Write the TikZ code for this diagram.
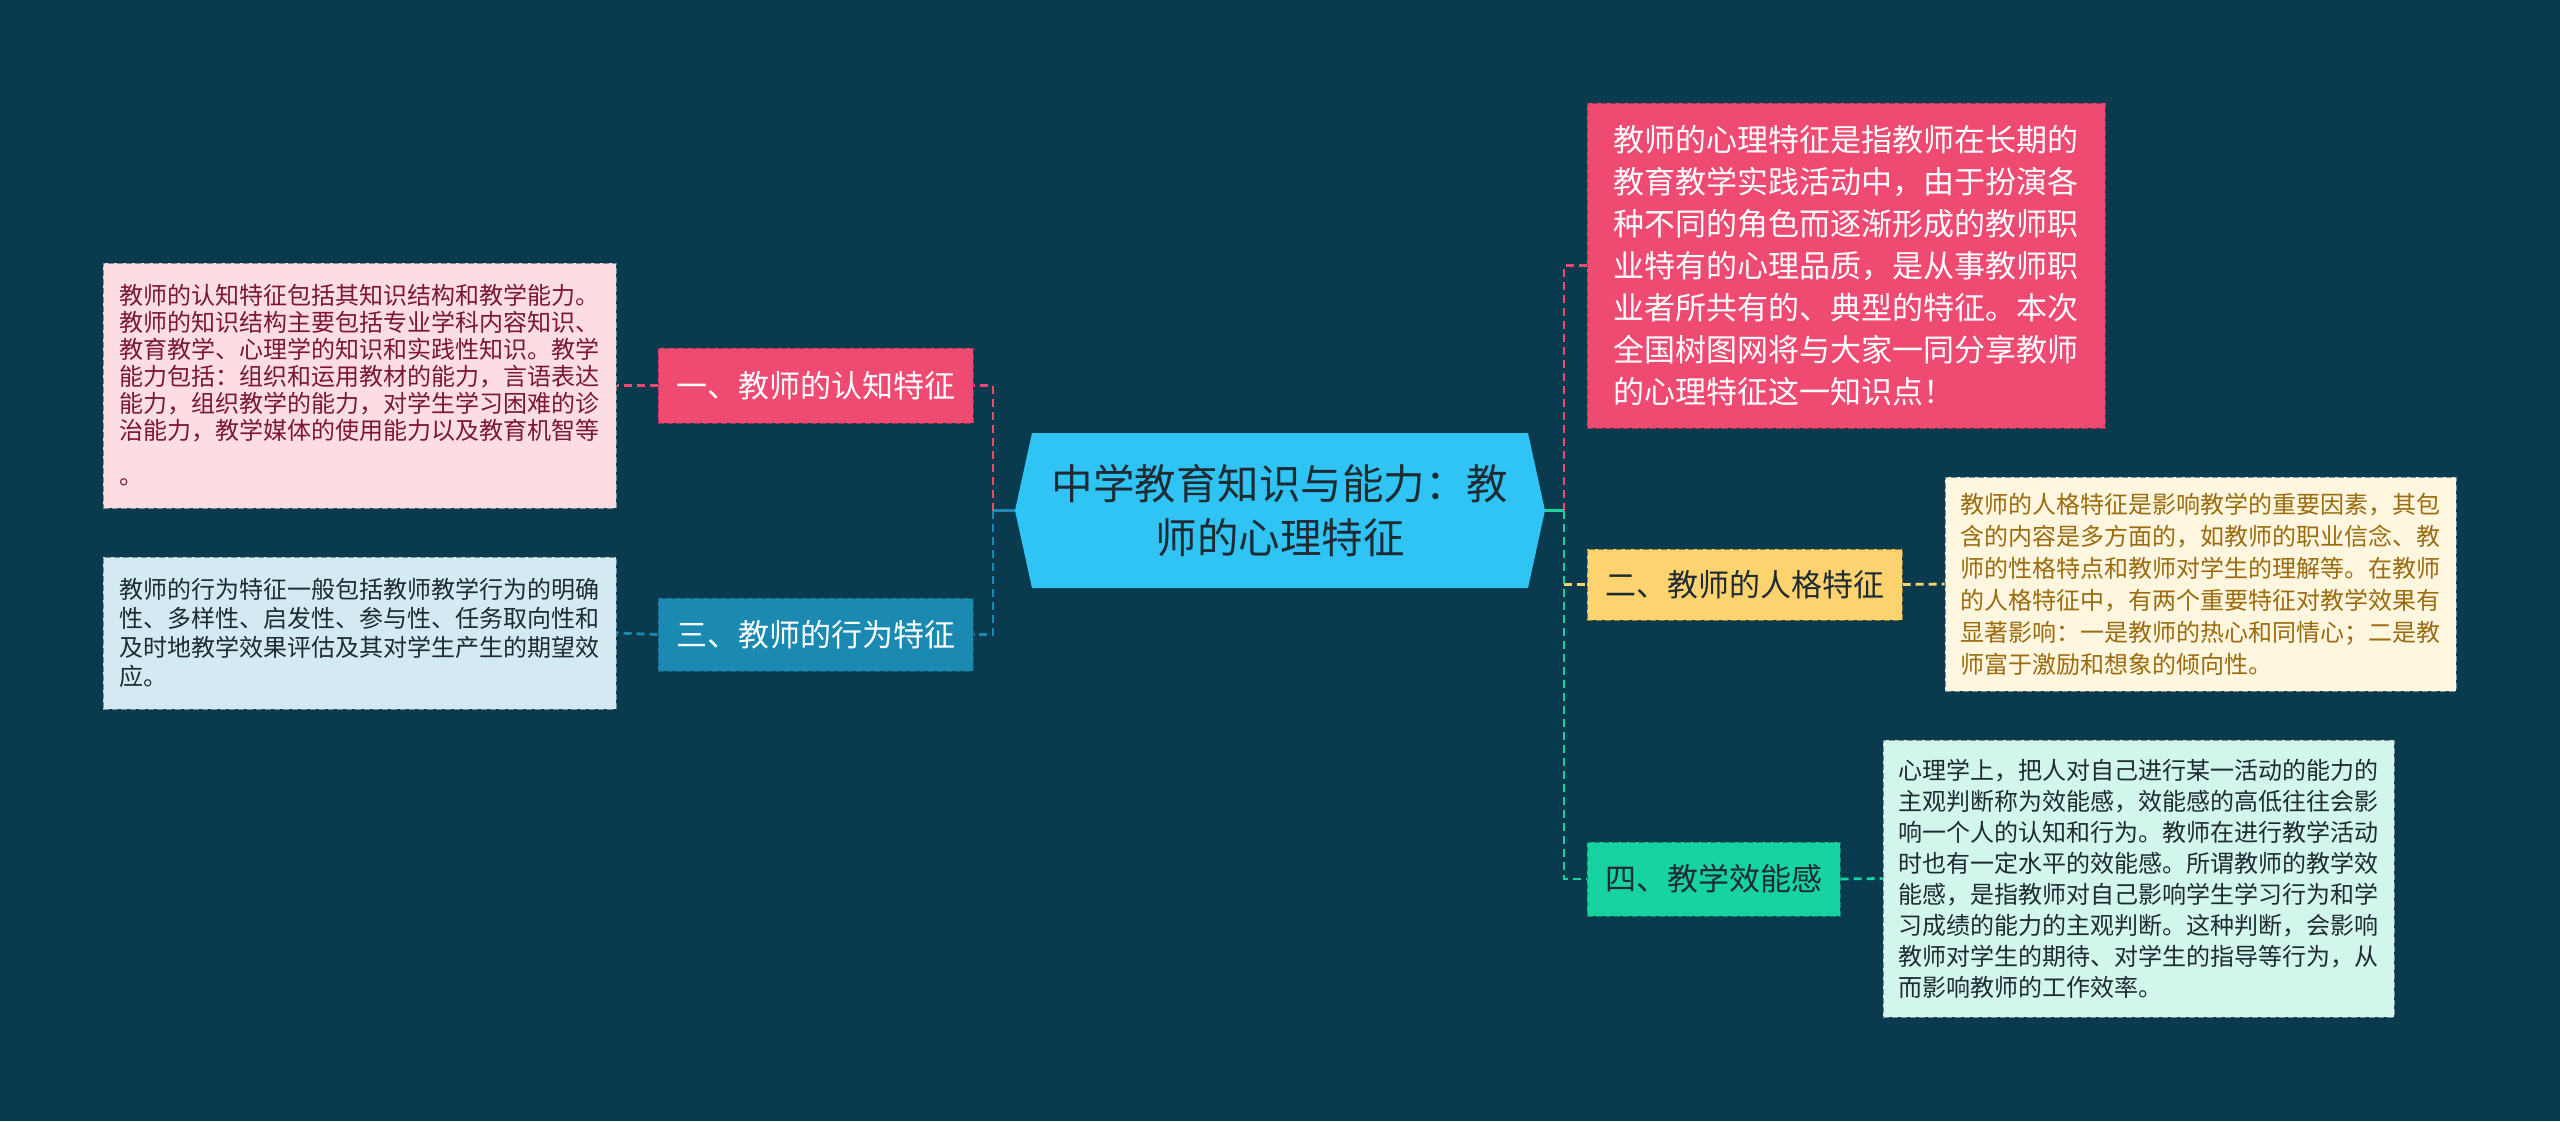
\documentclass[tikz,border=0pt]{standalone}
\usepackage{fontspec}
\setmainfont{Noto Sans CJK SC}
\definecolor{bg}{HTML}{0A3A4E}
\definecolor{hexc}{HTML}{30C4F4}
\definecolor{pinkc}{HTML}{EF4A72}
\definecolor{pinkb}{HTML}{A8324F}
\definecolor{bluec}{HTML}{1A8AB2}
\definecolor{blueb}{HTML}{13607C}
\definecolor{yelc}{HTML}{FDD36F}
\definecolor{yelb}{HTML}{8F7838}
\definecolor{grnc}{HTML}{17D39F}
\definecolor{grnb}{HTML}{0E8A68}
\definecolor{dpf}{HTML}{FCDDE4}
\definecolor{dpt}{HTML}{7A1832}
\definecolor{dbf}{HTML}{D3EAF2}
\definecolor{dyf}{HTML}{FEF6DE}
\definecolor{dyt}{HTML}{9B6B10}
\definecolor{dgf}{HTML}{D2F5EC}
\definecolor{darktext}{HTML}{1E2B33}
\definecolor{lightb}{HTML}{7F8E94}
\tikzset{
  boxstyle/.style={draw, dash pattern=on 3pt off 1.5pt, line width=0.5pt, inner sep=0pt},
  labelbox/.style={boxstyle, align=center, font=\fontsize{15.5pt}{18pt}\selectfont},
  detailbox/.style={boxstyle, draw=lightb, align=left},
  conn/.style={line width=1.4pt},
  conndash/.style={line width=1.4pt, dash pattern=on 4pt off 2.5pt}
}
\begin{document}
\begin{tikzpicture}[x=0.5pt,y=-0.5pt]
\useasboundingbox (0,0) rectangle (2560,1121);
\fill[bg] (0,0) rectangle (2560,1121);
% central hexagon
\fill[hexc] (1015,510.5) -- (1032,433) -- (1528,433) -- (1545,510.5) -- (1528,588) -- (1032,588) -- cycle;
\node[inner sep=0pt, minimum width=265pt, minimum height=77.5pt, align=center,
      text=darktext, font=\fontsize{20.75pt}{27pt}\selectfont] (root) at (1280,510.5)
      {中学教育知识与能力：教\\师的心理特征};
% label nodes
\node[labelbox, fill=pinkc, draw=pinkb, text=white, minimum width=157.5pt, minimum height=37.5pt] (L1) at (815.5,385.5) {一、教师的认知特征};
\node[labelbox, fill=bluec, draw=blueb, text=white, minimum width=157.5pt, minimum height=36.5pt] (L3) at (815.5,634.5) {三、教师的行为特征};
\node[labelbox, fill=yelc, draw=yelb, text=darktext, minimum width=157.5pt, minimum height=35.5pt] (R2) at (1744.5,584.5) {二、教师的人格特征};
\node[labelbox, fill=grnc, draw=grnb, text=darktext, minimum width=126.5pt, minimum height=37pt] (R4) at (1713.5,879) {四、教学效能感};
% detail nodes
\node[detailbox, fill=dpf, text=dpt, minimum width=256.5pt, minimum height=122.5pt,
      font=\fontsize{12pt}{13.5pt}\selectfont] (D1) at (359.5,385.5)
{教师的认知特征包括其知识结构和教学能力。\\教师的知识结构主要包括专业学科内容知识、\\教育教学、心理学的知识和实践性知识。教学\\能力包括：组织和运用教材的能力，言语表达\\能力，组织教学的能力，对学生学习困难的诊\\治能力，教学媒体的使用能力以及教育机智等\\[9pt]。};
\node[detailbox, fill=dbf, text=darktext, minimum width=256.5pt, minimum height=76pt,
      font=\fontsize{12pt}{14.5pt}\selectfont] (D3) at (359.5,633)
{教师的行为特征一般包括教师教学行为的明确\\性、多样性、启发性、参与性、任务取向性和\\及时地教学效果评估及其对学生产生的期望效\\应。};
\node[boxstyle, draw=pinkb, fill=pinkc, text=white, align=left, minimum width=259pt, minimum height=162.5pt,
      font=\fontsize{15.5pt}{21pt}\selectfont] (DR) at (1846,265.5)
{教师的心理特征是指教师在长期的\\教育教学实践活动中，由于扮演各\\种不同的角色而逐渐形成的教师职\\业特有的心理品质，是从事教师职\\业者所共有的、典型的特征。本次\\全国树图网将与大家一同分享教师\\的心理特征这一知识点！};
\node[detailbox, fill=dyf, text=dyt, minimum width=255.5pt, minimum height=107pt,
      font=\fontsize{12pt}{16pt}\selectfont] (D2) at (2200.5,584)
{教师的人格特征是影响教学的重要因素，其包\\含的内容是多方面的，如教师的职业信念、教\\师的性格特点和教师对学生的理解等。在教师\\的人格特征中，有两个重要特征对教学效果有\\显著影响：一是教师的热心和同情心；二是教\\师富于激励和想象的倾向性。};
\node[detailbox, fill=dgf, text=darktext, minimum width=255.5pt, minimum height=138.5pt,
      font=\fontsize{12pt}{15.5pt}\selectfont] (D4) at (2138.5,878.5)
{心理学上，把人对自己进行某一活动的能力的\\主观判断称为效能感，效能感的高低往往会影\\响一个人的认知和行为。教师在进行教学活动\\时也有一定水平的效能感。所谓教师的教学效\\能感，是指教师对自己影响学生学习行为和学\\习成绩的能力的主观判断。这种判断，会影响\\教师对学生的期待、对学生的指导等行为，从\\而影响教师的工作效率。};
% connectors
\coordinate (lt) at (993,510.5);
\coordinate (rt) at (1564,510.5);
\coordinate (ry) at (rt |- R2.west);
\draw[conn, bluec] (root.west) -- (lt);
\draw[conndash, pinkc] (lt) |- (L1.east);
\draw[conndash, bluec] (lt) |- (L3.east);
\draw[conndash, pinkc] (L1.west) -- (D1.east);
\draw[conndash, bluec] (L3.west) -- (D3.east);
\draw[conn, grnc] (root.east) -- (rt);
\draw[conndash, pinkc] (rt) |- (DR.west);
\draw[conndash, yelc] (ry) -- (R2.west);
\draw[conndash, grnc] (rt) |- (R4.west);
\draw[conndash, yelc] (R2.east) -- (D2.west);
\draw[conndash, grnc] (R4.east) -- (D4.west);
\end{tikzpicture}
\end{document}
